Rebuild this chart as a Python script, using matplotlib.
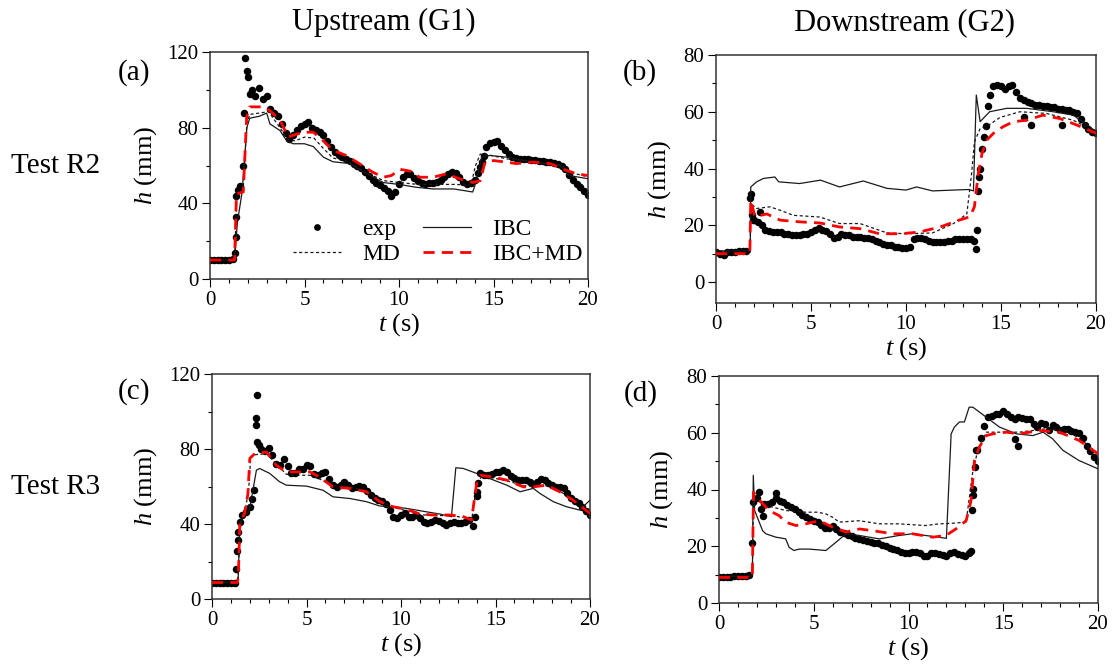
import numpy as np
import matplotlib
matplotlib.use('Agg')
import matplotlib.pyplot as plt
from matplotlib.ticker import MultipleLocator

plt.rcParams['font.family'] = ['Liberation Serif', 'DejaVu Serif']
plt.rcParams['mathtext.fontset'] = 'custom'
plt.rcParams['mathtext.rm'] = 'Liberation Serif'
plt.rcParams['mathtext.it'] = 'Liberation Serif:italic'

# measured depth, sampled every 0.2 s (0 .. 20 s)
exp_t = np.linspace(0, 20, 101)

exp_a = [10, 10, 10, 10, 10, 10, 10.5, 44, 49, 88,
         107, 100, 97, 101, 95, 97, 90, 88, 86, 82,
         77, 74, 76, 79, 81, 82, 83, 80, 79, 77.5,
         76, 73, 70, 67, 65.5, 64.5, 63.5, 62.5, 61, 60,
         58.5, 56.5, 54.5, 52.5, 51, 49.5, 48, 46.5, 44, 46,
         50, 54, 55.5, 55.5, 53.5, 52, 51, 50, 50.5, 51,
         51.5, 52.5, 54, 55.5, 56.5, 56, 54, 51.5, 50, 51,
         52.5, 56, 62, 70, 72, 72.5, 73, 70.5, 68, 66,
         64.5, 64, 63.5, 63.5, 63.5, 63, 63, 62.5, 62.5, 62,
         62, 61.5, 61, 60, 58, 55, 52.5, 50, 48.5, 46.5,
         44.5]
exp_b = [10.5, 10, 9.5, 10.5, 10.5, 10.5, 11, 11, 11, 29.5,
         22, 21, 20, 18.5, 18, 17.5, 17.5, 17.5, 17, 17,
         16.5, 16.5, 16.5, 17, 17, 17.5, 18.5, 19, 18.5, 18,
         17, 15.5, 16, 17, 16.5, 16.5, 16, 16, 16, 15.5,
         15.5, 15, 14.5, 14, 13.5, 13, 13, 12.5, 12.5, 12,
         12, 12.5, 15, 15.5, 15.5, 15, 14.5, 14, 14, 14,
         14, 14.5, 14.5, 15, 15, 15, 15, 15, 14.5, 32,
         47, 55, 66, 69, 69.5, 69, 68, 69, 69.5, 67,
         65, 64, 63.5, 63, 62.5, 62.5, 62, 62, 61.5, 61.5,
         61, 61, 60.5, 60.5, 60, 59.5, 57.5, 55.5, 54, 53,
         52.5]
exp_c = [8.8, 8.8, 8.8, 8.8, 8.8, 8.8, 8.8, 36, 45, 46.5,
         49, 58, 84, 80, 79, 80.5, 77, 72, 71.5, 74.5,
         71, 67, 67, 69.5, 69.5, 71.5, 71, 66.5, 66, 67,
         67.5, 64, 61, 60, 61, 62.5, 61, 59, 60, 60.5,
         59.5, 57.5, 55.5, 54, 53, 52.5, 50.5, 47.5, 44, 43,
         45, 46, 44, 43.5, 44.8, 43, 41, 40.5, 41, 42,
         41.5, 40.5, 39.5, 40.5, 41.2, 40.5, 40.5, 41, 42, 39,
         55, 67, 66, 66, 66.5, 67.5, 68, 69, 67.5, 65.5,
         64.5, 63.5, 63.5, 63.7, 62.5, 61.6, 62.5, 64, 63.5, 62,
         61, 60, 59.5, 59, 56.5, 54, 52.5, 51, 49, 47,
         45]
exp_d = [9, 9, 9, 9, 9.5, 9.5, 9.5, 9.5, 10, 35.5,
         37, 33, 35, 35, 35.5, 37, 36, 35.5, 34.5, 34,
         33, 32, 31, 30.2, 29.5, 29, 28.5, 27.5, 26.5, 26.5,
         27, 26, 25, 24.5, 24, 23.5, 23, 22.6, 22.2, 22,
         21.6, 21.2, 21, 20.5, 20.2, 19.5, 19, 18.7, 18, 17.5,
         17.6, 17.9, 17.9, 17.5, 16.5, 16.5, 17.5, 17.6, 17.3, 16.8,
         16.5, 17.5, 17.8, 17.4, 17, 16.7, 17.5, 38, 54, 58,
         62.5, 65.5, 66, 66.5, 66.7, 67.5, 66.5, 65.5, 65, 65.5,
         65.3, 65, 65, 63, 62, 63.5, 63, 61, 62.6, 62,
         60.8, 61.2, 61.4, 60.5, 60.2, 60, 58, 55.5, 53.5, 51.5,
         50.2]

# extra measured points (fronts and spikes)
xa_t = [1.3, 1.35, 1.38, 1.5, 1.75, 1.85, 1.95, 2.1, 14.3, 14.5]
xa_h = [14, 22, 33, 47, 60, 117, 110, 98, 59, 65]
xb_t = [1.82, 1.88, 1.95, 2.3, 13.68, 13.75, 13.85, 13.9, 14.1, 14.3, 16.2, 16.6, 18.2]
xb_h = [31, 23.5, 21.8, 24.5, 11.8, 18.5, 37, 40, 51, 62, 58, 55.3, 55.3]
xc_t = [1.25, 1.32, 1.36, 1.5, 2.14, 2.31, 2.33, 2.38, 2.5, 13.9, 14.03, 14.1]
xc_h = [16, 25.8, 31.5, 41, 53.6, 92.6, 96.6, 109, 82, 44, 57, 62]
xd_t = [1.76, 2.1, 2.3, 3.0, 13.3, 13.36, 13.43, 13.5, 13.57, 15.6, 15.77]
xd_h = [21, 39, 30.8, 38.7, 18.5, 32.6, 40.2, 47.9, 53.8, 57.9, 55.5]

# simulations
ibc_a_t = [0, 1.3, 1.45, 1.7, 1.95, 2.1, 2.6, 3.0, 3.17, 3.7, 4.06, 4.4, 5.0, 5.47, 6.0, 6.5, 7.4, 8.3,
           9.17, 10.0, 10.9, 11.8, 12.9, 13.9, 14.1, 14.37, 14.8, 15.7, 17.1, 18.5, 19.0, 20.0]
ibc_a_h = [10, 10, 30, 46, 80, 85, 86, 87.7, 82, 78.5, 73, 71.5, 71.5, 70, 64.4, 62, 61, 55.6,
           51, 50, 48.5, 47.6, 47.6, 46, 52, 64.4, 65.3, 64.4, 61.8, 60, 54.7, 53]
md_a_t = [0, 1.3, 1.42, 1.75, 1.95, 2.1, 2.8, 3.1, 3.7, 4.1, 4.5, 5.0, 5.5, 6.0, 6.5, 7.3, 8.3, 9.2,
          10.0, 11.0, 12.0, 13.0, 13.8, 14.05, 14.3, 14.8, 15.7, 17.0, 18.5, 19.2, 20.0]
md_a_h = [10, 10, 44, 47, 82, 87, 88, 88.5, 80, 74, 73, 75, 74.5, 69, 64, 62, 56, 52,
          51, 50, 50, 50, 49.5, 60, 66, 65.5, 63.5, 62, 60.5, 56, 54]
both_a_t = [0, 1.3, 1.4, 1.76, 1.94, 2.1, 2.8, 3.17, 3.7, 4.14, 4.4, 4.94, 5.47, 6.0, 6.5, 7.2, 7.9,
            8.6, 9.17, 9.6, 10.05, 10.6, 11.1, 11.8, 12.5, 13.2, 13.9, 14.3, 14.55, 15.0, 15.7, 16.2,
            17.1, 18.0, 18.7, 19.4, 20.0]
both_a_h = [10, 10, 45, 46, 85.6, 91, 91, 89, 84, 75, 76, 77.6, 77.6, 73, 68, 65.3, 61,
            56.5, 53.8, 54.7, 58, 57, 53.8, 53.8, 55.6, 53, 51, 52, 61.8, 62.6, 61.8, 61,
            61.8, 61, 58, 55.6, 54.7]

ibc_b_t = [0, 1.8, 1.83, 2.14, 2.5, 3.1, 3.3, 4.4, 5.5, 6.5, 7.75, 9.0, 10.0, 10.56, 11.4, 12.5,
           13.3, 13.55, 13.7, 13.9, 14.4, 15.3, 16.35, 17.75, 18.8, 20.0]
ibc_b_h = [11, 11, 33.5, 35.3, 36.5, 37, 35.3, 34.7, 35.9, 33.5, 35.6, 33, 32.4, 33.5, 32.1, 32.4,
           32.6, 32.1, 65.9, 56.5, 60, 61.2, 61.2, 60, 58.8, 53]
md_b_t = [0, 1.8, 1.83, 2.14, 2.84, 3.37, 4.07, 5.47, 6.5, 7.58, 9.0, 10.0, 11.4, 12.5, 13.2,
          13.45, 13.6, 13.9, 14.4, 14.95, 16.0, 17.4, 18.8, 20.0]
md_b_h = [10.5, 10.5, 27.6, 25.9, 26.5, 25.3, 23.5, 22.9, 20.6, 20.6, 17.3, 17, 17.3, 20.6, 24,
          38, 49.4, 54, 55.5, 58, 60, 59.4, 57, 53]
both_b_t = [0, 1.78, 1.83, 2.05, 2.67, 3.37, 4.4, 5.47, 6.5, 7.58, 8.6, 9.7, 10.7, 11.8, 12.8,
            13.37, 13.6, 13.8, 14.0, 14.25, 14.6, 15.1, 15.65, 16.35, 17.2, 18.1, 19.0, 20.0]
both_b_h = [10, 10, 28.8, 23, 24, 21.8, 21.2, 20.8, 19.4, 18.8, 17, 17, 17.6, 19.4, 21.8,
            23, 26.5, 38, 45.3, 50, 52.4, 54.7, 56.5, 57, 58.8, 57.6, 55.3, 52.4]

ibc_c_t = [0, 1.38, 1.45, 1.55, 1.98, 2.35, 2.52, 3.05, 3.58, 3.94, 5.0, 5.88, 6.4, 7.29, 8.17,
           8.88, 9.58, 10.3, 11.35, 12.06, 12.67, 12.9, 13.3, 14.0, 14.7, 15.6, 16.3, 17.0, 17.35,
           18.06, 18.76, 19.47, 19.82, 20.0]
ibc_c_h = [8.8, 8.8, 33, 42, 47.4, 68.7, 69.6, 67, 62.5, 60.7, 60.2, 58, 54.5, 53.6, 51.9,
           49.6, 49.2, 48.3, 46.5, 45.3, 43.9, 70, 69.6, 67, 64.2, 60.7, 57.2, 59, 56.3,
           51.9, 49.2, 47.4, 51, 52.7]
md_c_t = [0, 1.35, 1.42, 1.5, 1.75, 1.95, 2.05, 2.3, 2.9, 3.4, 3.94, 4.64, 5.17, 5.7, 6.4, 7.29,
          8.17, 8.88, 9.58, 10.3, 11.0, 11.7, 12.6, 13.3, 13.75, 14.02, 14.25, 14.9, 15.6, 16.5,
          17.0, 17.7, 18.4, 19.1, 20.0]
md_c_h = [8.8, 8.8, 20, 41, 46, 60, 76, 77, 77.5, 72, 66.5, 66, 66, 64, 60.5, 60,
          57.5, 52.5, 49, 47, 45, 44.5, 44.5, 43.5, 43, 62, 65, 64.5, 63, 60.5,
          60, 60.5, 57.5, 53, 46.5]
both_c_t = [0, 1.35, 1.4, 1.47, 1.72, 1.9, 2.0, 2.26, 2.88, 3.4, 3.94, 4.64, 5.17, 5.7, 6.4, 7.29,
            8.17, 8.88, 9.58, 10.3, 11.0, 11.7, 12.6, 13.3, 13.73, 14.0, 14.2, 14.88, 15.6, 16.47,
            17.0, 17.7, 18.4, 19.1, 20.0]
both_c_h = [8.8, 8.8, 13.8, 40, 45.7, 56, 75, 77.5, 78.4, 71.3, 67.8, 67.8, 67.8, 65, 59.8, 59,
            57.2, 51.9, 49.2, 47.8, 45.3, 44.8, 44.8, 43.9, 42.1, 61.6, 66, 65, 63.4, 59.8,
            59.8, 60.7, 57.2, 52.7, 45.7]

ibc_d_t = [0, 1.76, 1.81, 1.88, 2.3, 2.47, 3.0, 3.52, 3.7, 3.96, 4.23, 4.76, 5.29, 5.64, 6.17, 6.7,
           7.4, 8.46, 9.5, 10.2, 10.9, 12.0, 12.25, 12.42, 12.69, 12.95, 13.2, 13.4, 14.1, 14.8,
           15.7, 16.56, 17.1, 17.6, 18.15, 19.0, 20.0]
ibc_d_h = [9.5, 9.5, 45, 32.6, 25.5, 24.4, 23.2, 22.6, 19.6, 18.5, 19, 19, 18.7, 18.5, 21.4, 24.4,
           23.8, 22.6, 23.8, 24.4, 23.8, 22.8, 59.6, 62, 63.8, 63.8, 69, 69, 65.5, 62,
           59.6, 59, 60.2, 57.9, 53.8, 50.2, 47.3]
md_d_t = [0, 1.76, 1.82, 2.0, 2.47, 3.52, 4.58, 5.2, 5.64, 6.0, 6.34, 7.4, 8.46, 9.5, 10.9, 11.63,
          12.33, 13.04, 13.4, 13.66, 14.1, 14.8, 15.86, 17.27, 18.33, 19.2, 20.0]
md_d_h = [9.5, 9.5, 38, 36, 34.4, 32.6, 32, 32, 31.4, 30.2, 28.5, 29, 27.9, 27.9, 27.3, 27.9,
          28.1, 28.5, 46.7, 53.8, 60.2, 60.2, 60.2, 61.4, 60.8, 57.3, 51.4]
both_d_t = [0, 1.76, 1.82, 2.0, 2.64, 3.17, 3.52, 4.05, 4.58, 5.29, 6.0, 6.7, 7.4, 8.1, 9.16, 10.2,
            11.28, 11.98, 12.5, 13.04, 13.3, 13.48, 13.74, 14.1, 14.45, 15.15, 15.86, 16.9, 17.97,
            19.0, 20.0]
both_d_h = [9, 9, 39, 37.3, 32.6, 30.8, 28.5, 27.3, 27.9, 29, 26.7, 25, 26.1, 25.5, 24.4, 24.4,
            23.2, 23.8, 26.1, 29, 36.1, 50.2, 55, 59, 59.6, 60.2, 59.6, 60.8, 60.2,
            57.3, 52.6]

W, H = 1115, 671
fig = plt.figure(figsize=(W / 100, H / 100), dpi=100)


def box(l, t, r, b):
    return [l / W, 1 - b / H, (r - l) / W, (b - t) / H]


panels = [
    dict(rect=box(210, 52, 588, 279), ylim=(0, 120), maj=40, mnr=20, lab='(a)', lxy=(134, 73),
         exp=exp_a, xt=xa_t, xh=xa_h, ibc=(ibc_a_t, ibc_a_h), md=(md_a_t, md_a_h),
         both=(both_a_t, both_a_h), ylx=-0.135),
    dict(rect=box(716, 55, 1096, 303), ylim=(-7.4, 80), maj=20, mnr=10, lab='(b)', lxy=(640, 73),
         exp=exp_b, xt=xb_t, xh=xb_h, ibc=(ibc_b_t, ibc_b_h), md=(md_b_t, md_b_h),
         both=(both_b_t, both_b_h), ylx=-0.113),
    dict(rect=box(212, 374, 590, 599), ylim=(0, 120), maj=40, mnr=20, lab='(c)', lxy=(134, 392),
         exp=exp_c, xt=xc_t, xh=xc_h, ibc=(ibc_c_t, ibc_c_h), md=(md_c_t, md_c_h),
         both=(both_c_t, both_c_h), ylx=-0.14),
    dict(rect=box(719, 376, 1098, 603), ylim=(0, 80), maj=20, mnr=10, lab='(d)', lxy=(641, 394),
         exp=exp_d, xt=xd_t, xh=xd_h, ibc=(ibc_d_t, ibc_d_h), md=(md_d_t, md_d_h),
         both=(both_d_t, both_d_h), ylx=-0.116),
]

axes = []
for p in panels:
    ax = fig.add_axes(p['rect'])
    ax.plot(exp_t, p['exp'], 'o', color='black', ms=5.4, mec='none', label='exp', zorder=2)
    ax.plot(p['xt'], p['xh'], 'o', color='black', ms=5.4, mec='none', zorder=2)
    ax.plot(*p['ibc'], '-', color='#1a1a1a', lw=0.9, label='IBC', zorder=3)
    ax.plot(*p['md'], color='#1a1a1a', lw=0.9, ls=(0, (2.5, 2)), label='MD', zorder=3)
    ax.plot(*p['both'], color='red', lw=2.0, ls=(0, (4, 2.6)), label='IBC+MD', zorder=4)
    ax.set_xlim(0, 20)
    ax.set_ylim(*p['ylim'])
    ax.xaxis.set_major_locator(MultipleLocator(5))
    ax.xaxis.set_minor_locator(MultipleLocator(1))
    ax.yaxis.set_major_locator(MultipleLocator(p['maj']))
    ax.yaxis.set_minor_locator(MultipleLocator(p['mnr']))
    ax.tick_params(which='major', direction='out', length=5.5, width=0.8, labelsize=15, pad=3)
    ax.tick_params(which='minor', direction='out', length=3, width=0.8)
    for s in ax.spines.values():
        s.set_linewidth(1.1)
        s.set_color('#333333')
    ax.set_xlabel('$t$ (s)', fontsize=19, labelpad=1)
    ax.set_ylabel('$h$ (mm)', fontsize=19)
    ax.yaxis.set_label_coords(p['ylx'], 0.5)
    fig.text(p['lxy'][0] / W, 1 - p['lxy'][1] / H, p['lab'], fontsize=21, ha='center', va='center')
    axes.append(ax)

h, l = axes[0].get_legend_handles_labels()
order = [0, 2, 1, 3]
axes[0].legend([h[i] for i in order], [l[i] for i in order], ncol=2, frameon=False, fontsize=17,
               loc='lower right', bbox_to_anchor=(1.01, 0.02), borderaxespad=0, handlelength=2.0,
               handletextpad=0.9, columnspacing=1.0, labelspacing=0.15, numpoints=1,
               markerscale=0.9)

fig.text(384 / W, 1 - 30 / H, 'Upstream (G1)', fontsize=22, ha='center', va='baseline')
fig.text(904 / W, 1 - 30 / H, 'Downstream (G2)', fontsize=22, ha='center', va='baseline')
fig.text(56 / W, 1 - 173 / H, 'Test R2', fontsize=21, ha='center', va='baseline')
fig.text(56 / W, 1 - 494 / H, 'Test R3', fontsize=21, ha='center', va='baseline')

fig.savefig('out.png', dpi=100)
